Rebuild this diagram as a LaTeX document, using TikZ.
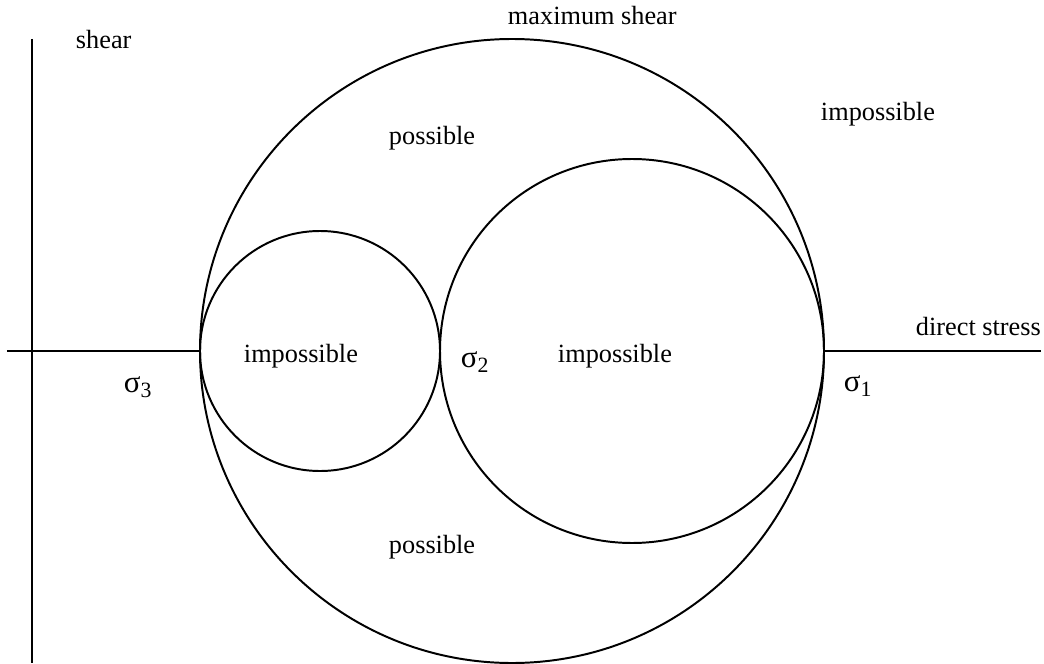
\documentclass[tikz,border=0pt]{standalone}
\usepackage{fontspec}
\setmainfont{Liberation Serif}
\usetikzlibrary{positioning}

\tikzset{lbl/.style={anchor=base west,inner sep=0pt}}
\newcommand{\sig}[1]{{\fontsize{22}{24}\selectfont σ}\raisebox{-0.22em}{\fontsize{15.5}{17}\selectfont #1}}

\begin{document}
\begin{tikzpicture}[font=\fontsize{18.7}{22}\selectfont,line width=1.4pt]
\useasboundingbox (-0.8,-7.82) rectangle (25.3,8.775);
\coordinate (O) at (0,0);
\coordinate (s3) at (4.2,0);
\coordinate (s2) at (10.2,0);
\coordinate (s1) at (19.8,0);
% axes
\draw (0,7.8)--(0,-7.8);
\draw (-0.625,0)--(s3);
\draw (s1)--(25.225,0);
% Mohr circles
\draw (12,0) circle (7.8);
\draw (7.2,0) circle (3);
\draw (15,0) circle (4.8);
\node[lbl] (shear) at (1.075,7.55) {shear};
\node[lbl] (maxshear) at (11.875,8.15) {maximum shear};
\node[lbl] (imposout) at (19.7,5.75) {impossible};
\node[lbl] (posup) at (8.9,5.15) {possible};
\node[lbl] (posdown) at (8.9,-5.05) {possible};
\node[lbl] (impossmall) at (5.275,-0.275) {impossible};
\node[lbl] (imposmid) at (13.125,-0.275) {impossible};
\node[lbl] (direct) at (22.075,0.4) {direct stress};
\node[lbl] (sig3) at (2.275,-1.025) {\sig{3}};
\node[lbl] (sig2) at (10.7,-0.4) {\sig{2}};
\node[lbl] (sig1) at (20.275,-1.0) {\sig{1}};
\end{tikzpicture}
\end{document}
